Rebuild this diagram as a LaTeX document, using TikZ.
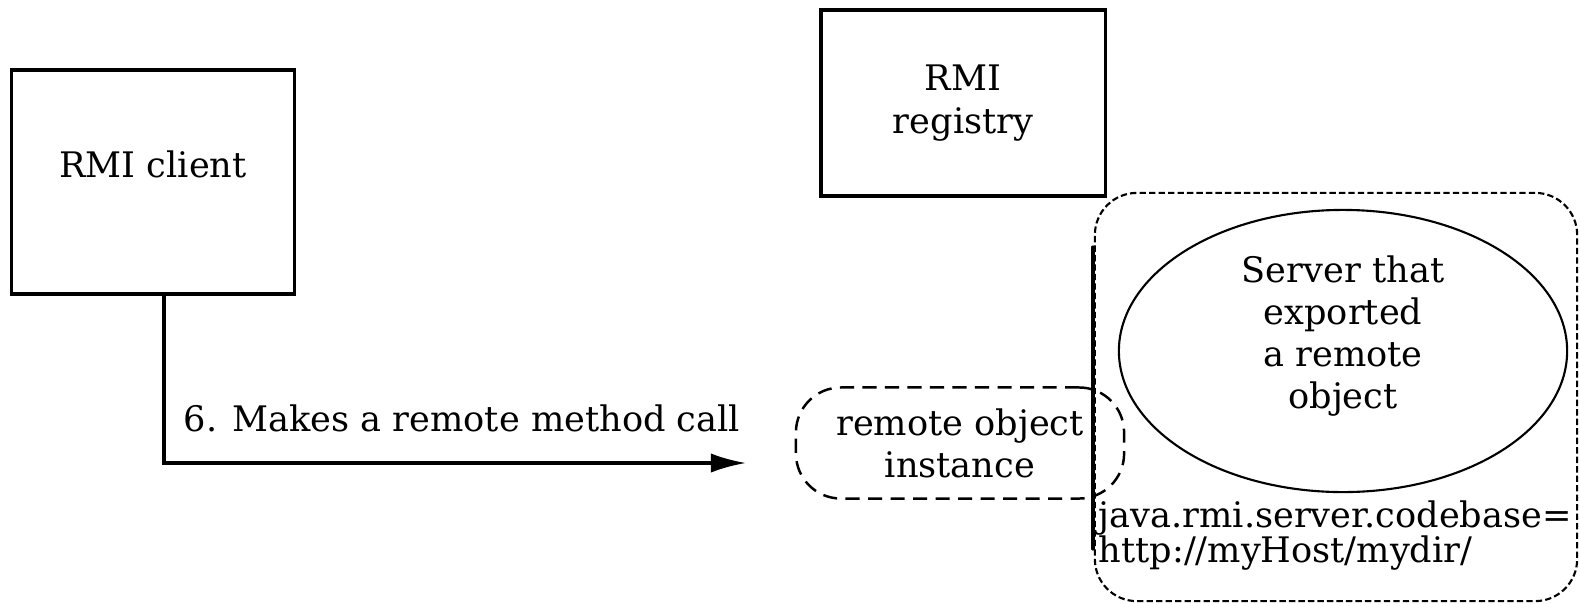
\documentclass[tikz,border=0pt]{standalone}
\usepackage{fontspec}
\setmainfont{DejaVu Serif}
\usetikzlibrary{arrows.meta,shapes.geometric}
\definecolor{ink}{HTML}{000000}
\tikzset{
  box/.style={draw=ink, line width=0.9pt, rectangle},
  stub/.style={draw=ink, dash pattern=on 4pt off 2.4pt, line width=0.7pt, rounded corners=0.45cm, align=center},
  host/.style={draw=ink, line width=0.6pt, dash pattern=on 1.8pt off 0.9pt, rounded corners=0.42cm},
  srv/.style={draw=ink, ellipse, line width=0.6pt},
  call/.style={draw=ink, line width=0.9pt, -{Latex[length=10pt,width=5.5pt]}},
  base/.style={draw=ink, line width=0.9pt, line cap=round},
  lab/.style={text=ink, font=\normalsize},
}

\begin{document}
\begin{tikzpicture}[x=0.01cm,y=-0.01cm]
  \useasboundingbox (0,0) rectangle (1580,603);

  \node[box, minimum width=2.83cm, minimum height=2.24cm,
        label={[lab,yshift=0.18cm]center:RMI client}] (client) at (153,182) {};
  \node[box, lab, minimum width=2.84cm, minimum height=1.86cm, align=center] (registry) at (963,103) {RMI\\registry};

  \node[host, minimum width=4.82cm, minimum height=4.08cm] (host) at (1336,397) {};
  \node[srv, minimum width=4.48cm, minimum height=2.82cm, inner sep=0pt,
        label={[lab,align=center,yshift=0.15cm]center:Server that\\exported\\a remote\\object}] (server) at (1343,351) {};
  \node[stub, lab, minimum width=3.28cm, minimum height=1.11cm, inner sep=0pt] (stub) at (960,443) {remote object\\instance};
  \draw[base] (1093,247) -- (1093,549);
  \node[lab, anchor=north west, align=left, inner sep=0pt, font={\fontsize{10}{10}\selectfont}] (codebase) at (1098,500)
    {java.rmi.server.codebase=\\http://myHost/mydir/};

  \coordinate (callend) at (746,463);
  \draw[call] ([xshift=0.11cm]client.south) |- (callend);
  \node[lab] (calltxt) at (462,418) {6. Makes a remote method call};
\end{tikzpicture}
\end{document}
